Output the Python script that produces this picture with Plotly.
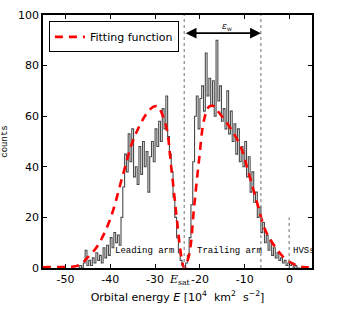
import plotly.graph_objects as go

# Histogram (bin width 0.4, left edge start)
bin_start = -47.2
bin_width = 0.4
counts = [0, 1, 0, 2, 7, 1, 3, 1, 4, 2, 6, 3, 5, 2, 8, 4, 9, 5, 12, 8,
          14, 10, 13, 9, 20, 32, 45, 38, 53, 42, 55, 36, 40, 33, 48, 37, 50, 40, 46, 30,
          44, 50, 42, 55, 48, 58, 50, 63, 55, 68, 52, 45, 38, 28, 20, 12, 6, 3, 1, 0,
          2, 5, 12, 25, 42, 60, 68, 55, 67, 72, 62, 85, 68, 75, 64, 74, 60, 90, 66, 72,
          58, 63, 55, 70, 53, 62, 50, 57, 45, 55, 42, 48, 40, 50, 36, 44, 30, 38, 26, 30,
          20, 24, 14, 18, 10, 13, 7, 11, 5, 8, 4, 6, 3, 4, 2, 3, 1, 2, 1, 2,
          0, 1, 0, 0]

# Fitting function
fit_x = [-55, -53.8, -50, -47.5, -46.5, -45.3, -43, -40.1, -37.1, -34.9, -31.9, -30.4,
         -29.5, -29, -27.5, -26.4, -25.2, -24.1, -23.5, -22.4, -21.3, -20.2, -19.1,
         -18.0, -17.0, -16.2, -13.4, -10.9, -9.1, -7.2, -5.4, -3.2, -1.0, 1.6, 3.1, 5]
fit_y = [0.3, 0.4, 0.4, 0.8, 1.5, 3.7, 8.3, 18.9, 37.3, 50.5, 61.1, 63.7,
         64, 63, 55.8, 40, 20.2, 4, 0, 5.3, 24.1, 42.6, 58.4,
         63.7, 64, 62.4, 55.8, 47.9, 37.3, 25.5, 14.9, 8.3, 3.7, 1.0, 0.4, 0.3]

E_sat = -23.5
E_edge = -6.4
E_hvs = -0.1

x_ticks = [-50, -40, -30, -20, -10, 0]
y_ticks = [0, 20, 40, 60, 80, 100]

# step line from bins
edges = [bin_start + i * bin_width for i in range(len(counts) + 1)]
hx = []
hy = []
for i, c in enumerate(counts):
    hx += [edges[i], edges[i + 1]]
    hy += [c, c]

fig = go.Figure()
fig.add_trace(go.Scatter(x=hx, y=hy, mode="lines",
                         line=dict(color="#4a4a4a", width=1.1),
                         showlegend=False, hoverinfo="skip"))
fig.add_trace(go.Scatter(x=fit_x, y=fit_y, mode="lines", name="Fitting function",
                         line=dict(color="red", width=2.6, dash="8px,6px", shape="spline")))

dot = dict(color="#888888", width=1.2, dash="dot")
fig.add_shape(type="line", x0=E_sat, x1=E_sat, y0=0, y1=100, xref="x", yref="y", line=dot)
fig.add_shape(type="line", x0=E_edge, x1=E_edge, y0=0, y1=100, xref="x", yref="y", line=dot)
fig.add_shape(type="line", x0=E_hvs, x1=E_hvs, y0=0, y1=20, xref="x", yref="y", line=dot)

# double arrow
fig.add_annotation(x=E_edge, y=92.8, ax=E_sat, ay=92.8, xref="x", yref="y",
                   axref="x", ayref="y", text="", showarrow=True,
                   arrowhead=2, startarrowhead=2, arrowside="end+start",
                   arrowsize=1.2, startarrowsize=1.2, arrowwidth=1.8, arrowcolor="black")
fig.add_annotation(x=-13.9, y=95.5, xref="x", yref="y", text="<i>ε</i><sub>w</sub>",
                   showarrow=False, font=dict(size=9, color="black", family="DejaVu Serif"))

mono = dict(size=9, color="black", family="Liberation Mono")
fig.add_annotation(x=-32.4, y=6.7, text="Leading arm", showarrow=False, font=mono)
fig.add_annotation(x=-13.4, y=6.7, text="Trailing arm", showarrow=False, font=mono)
fig.add_annotation(x=0.3, y=6.7, text="HVSs", showarrow=False, font=mono, xanchor="left")

fig.add_annotation(x=-24.5, y=0, yshift=-3, text="<i>E</i><sub>sat</sub>", showarrow=False,
                   yanchor="top", font=dict(size=11, color="black", family="DejaVu Serif"))

fig.update_layout(
    width=347, height=315,
    margin=dict(l=43, r=35, t=15, b=47),
    paper_bgcolor="white", plot_bgcolor="white",
    font=dict(family="DejaVu Sans", size=11, color="black"),
    legend=dict(x=0.022, y=0.975, xanchor="left", yanchor="top",
                bgcolor="white", bordercolor="black", borderwidth=1,
                font=dict(size=11, family="DejaVu Sans"), itemwidth=30,
                tracegroupgap=0),
    xaxis=dict(range=[-55, 5], tickvals=x_ticks, ticktext=[str(v) for v in x_ticks],
               ticks="inside", ticklen=4, tickcolor="black", showgrid=False,
               zeroline=False, showline=True, linecolor="black", linewidth=1.5,
               mirror="ticks", automargin=False,
               title=dict(text="Orbital energy <i>E</i> [10<sup>4</sup>  km<sup>2</sup>  s<sup>−2</sup>]",
                          font=dict(size=11), standoff=8)),
    yaxis=dict(range=[0, 100], tickvals=y_ticks, ticks="inside", ticklen=4,
               tickcolor="black", showgrid=False, zeroline=False, showline=True,
               linecolor="black", linewidth=1.5, mirror="ticks", automargin=False,
               title=dict(text="counts", font=dict(size=9, family="Liberation Mono"),
                          standoff=12)),
)

fig.write_html("out.html", config={"displayModeBar": False},
               post_script="document.body.style.margin='0';")
